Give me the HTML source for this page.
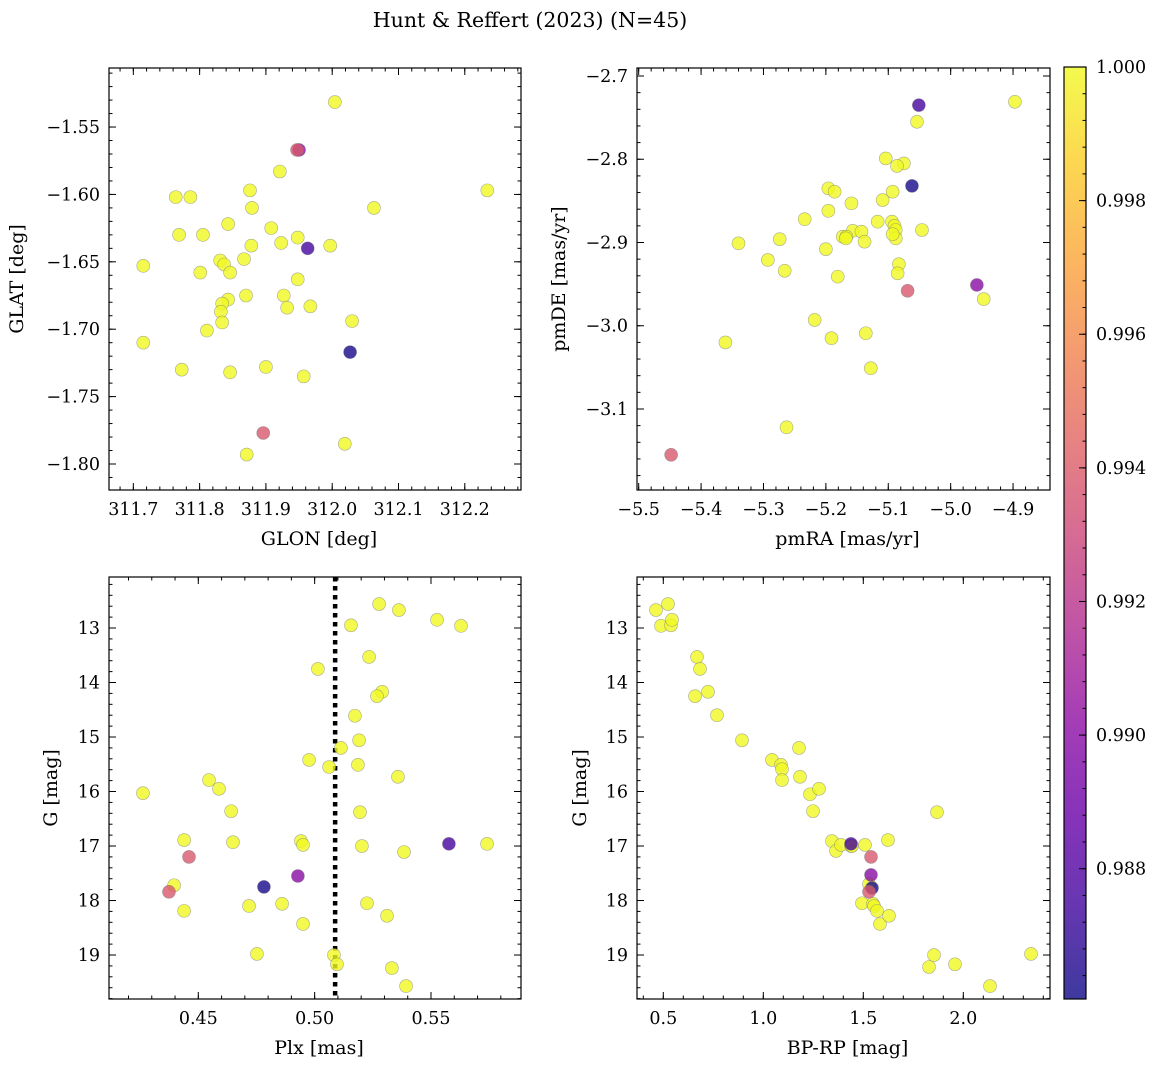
<!DOCTYPE html>
<html><head><meta charset="utf-8"><style>
html,body{margin:0;padding:0;background:#fff;}
svg{display:block;font-family:"DejaVu Serif","Liberation Serif",serif;}
</style></head><body>
<svg id="fig" width="1161" height="1067" viewBox="0 0 1161 1067" xmlns="http://www.w3.org/2000/svg">
<text x="530" y="27" font-size="20.5" text-anchor="middle">Hunt &amp; Reffert (2023) (N=45)</text>
</svg>
<script>
// ---- data (40 members at prob 1.0 + 5 lower-prob members) ----
const glon = [312.004,312.234,311.764,311.786,311.876,311.921,312.063,311.879,311.769,311.805,311.843,311.908,311.948,311.923,311.878,311.997,311.715,311.831,311.837,311.867,311.801,311.846,311.948,311.870,311.927,311.843,311.834,311.932,311.967,311.832,311.834,312.030,311.811,311.715,311.773,311.900,311.846,311.957,312.019,311.871, 312.027,311.963,311.950,311.947,311.896];
const glat = [-1.5315,-1.597,-1.602,-1.602,-1.597,-1.583,-1.610,-1.610,-1.630,-1.630,-1.622,-1.625,-1.632,-1.636,-1.638,-1.638,-1.653,-1.649,-1.652,-1.648,-1.658,-1.658,-1.663,-1.675,-1.675,-1.678,-1.681,-1.684,-1.683,-1.687,-1.695,-1.694,-1.701,-1.710,-1.730,-1.728,-1.732,-1.735,-1.785,-1.793, -1.717,-1.640,-1.567,-1.567,-1.777];
const pmra = [-4.897,-5.054,-5.104,-5.075,-5.086,-5.196,-5.186,-5.093,-5.159,-5.109,-5.234,-5.196,-5.117,-5.094,-5.090,-5.340,-5.274,-5.157,-5.173,-5.143,-5.167,-5.138,-5.200,-5.088,-5.046,-5.088,-5.293,-5.266,-5.083,-5.085,-5.181,-4.947,-5.218,-5.361,-5.191,-5.136,-5.128,-5.263,-5.168,-5.093, -5.062,-5.051,-4.958,-5.448,-5.069];
const pmde = [-2.731,-2.755,-2.799,-2.805,-2.808,-2.835,-2.839,-2.839,-2.853,-2.849,-2.872,-2.862,-2.875,-2.875,-2.880,-2.901,-2.896,-2.886,-2.893,-2.887,-2.893,-2.899,-2.908,-2.885,-2.885,-2.895,-2.921,-2.934,-2.926,-2.937,-2.941,-2.968,-2.993,-3.020,-3.015,-3.009,-3.051,-3.122,-2.895,-2.890, -2.832,-2.735,-2.951,-3.155,-2.958];
const plx = [0.5277,0.5156,0.5362,0.5526,0.5629,0.5234,0.5014,0.5290,0.5268,0.5173,0.5191,0.5113,0.4976,0.5062,0.5186,0.5358,0.4262,0.4546,0.4589,0.4641,0.5195,0.4439,0.4941,0.4649,0.4950,0.5203,0.5384,0.5741,0.4396,0.4439,0.4718,0.4860,0.5225,0.5311,0.4950,0.4752,0.5083,0.5096,0.5332,0.5393, 0.4782,0.5577,0.4928,0.4374,0.4460];
const gPlx = [12.56,12.95,12.67,12.85,12.96,13.53,13.75,14.17,14.25,14.61,15.06,15.20,15.42,15.55,15.51,15.73,16.03,15.79,15.95,16.36,16.38,16.89,16.91,16.93,16.98,17.00,17.11,16.96,17.72,18.19,18.10,18.06,18.05,18.28,18.43,18.98,19.00,19.17,19.24,19.57, 17.75,16.96,17.55,17.84,17.20];
const bprp = [0.4635,0.5235,0.4885,0.5385,0.5435,0.6685,0.6835,0.6585,0.7235,0.7685,0.8935,1.0435,1.0885,1.0935,1.0935,1.1785,1.1835,1.2335,1.2485,1.2785,1.3435,1.3635,1.3885,1.4385,1.5085,1.6235,1.8685,1.5285,1.4935,1.5485,1.5535,1.5685,1.5835,1.6285,1.8535,1.8285,1.9585,2.1335,2.3385,1.4435, 1.5435,1.4385,1.5385,1.5285,1.5385];
const gCmd = [12.67,12.56,12.96,12.95,12.85,13.53,13.75,14.25,14.17,14.60,15.06,15.42,15.51,15.59,15.79,15.20,15.73,16.05,16.36,15.95,16.91,17.09,16.98,17.00,16.98,16.89,16.38,17.70,18.05,18.06,18.10,18.19,18.43,18.28,19.00,19.22,19.17,19.57,18.98,17.00, 17.77,16.96,17.53,17.84,17.20];
const prob = [1,1,1,1,1,1,1,1,1,1,1,1,1,1,1,1,1,1,1,1,1,1,1,1,1,1,1,1,1,1,1,1,1,1,1,1,1,1,1,1, 0.9863,0.9876,0.9900,0.9938,0.9938];
const cbTicks = [0.988,0.990,0.992,0.994,0.996,0.998,1.000];
const cbMin = 0.98605, cbMax = 1.0;

const NS='http://www.w3.org/2000/svg';
const svg=document.getElementById('fig');
function mk(tag,attrs,parent){const e=document.createElementNS(NS,tag);for(const k in attrs)e.setAttribute(k,attrs[k]);(parent||svg).appendChild(e);return e;}
const stops=['#0d0887','#41049d','#6a00a8','#8f0da4','#b12a90','#cc4778','#e16462','#f2844b','#fca636','#fcce25','#f0f921'];
function hex(h){return [parseInt(h.slice(1,3),16),parseInt(h.slice(3,5),16),parseInt(h.slice(5,7),16)];}
function plasma(t){t=Math.max(0,Math.min(1,t));const s=t*10,i=Math.min(9,Math.floor(s)),f=s-i;const a=hex(stops[i]),b=hex(stops[i+1]);return 'rgb('+a.map((v,k)=>Math.round(v+(b[k]-v)*f)).join(',')+')';}
function colorOf(p){return plasma((p-cbMin)/(cbMax-cbMin));}
const TF=17.5, LF=19;

function panel(opt){
  const {x0,y0,x1,y1,xmin,xmax,ymin,ymax,invY,xs,ys,xMaj,xMin,yMaj,yMin,fmtX,fmtY,xlabel,ylabel,ylabX,name}=opt;
  const g=mk('g',{});
  
  
  const sx=v=>x0+(v-xmin)/(xmax-xmin)*(x1-x0);
  const sy=v=>invY? y0+(v-ymin)/(ymax-ymin)*(y1-y0) : y1-(v-ymin)/(ymax-ymin)*(y1-y0);
  const cp=mk('clipPath',{id:'clip-'+name},g);mk('rect',{x:x0,y:y0,width:x1-x0,height:y1-y0},cp);
  const pts=mk('g',{'clip-path':'url(#clip-'+name+')'},g);
  if(opt.vline!==undefined){
    const l=mk('line',{x1:sx(opt.vline),x2:sx(opt.vline),y1:y0,y2:y1,stroke:'#000','stroke-width':4.5,'stroke-dasharray':'4.5,4.5'},pts);
    
    
  }
  for(let i=0;i<xs.length;i++){
    const c=mk('circle',{cx:sx(xs[i]),cy:sy(ys[i]),r:6.5,fill:colorOf(prob[i]),'fill-opacity':0.8,stroke:'#777','stroke-opacity':0.6,'stroke-width':0.6},pts);
    
    
  }
  mk('rect',{x:x0,y:y0,width:x1-x0,height:y1-y0,fill:'none',stroke:'#000','stroke-width':1.2},g);
  const eps=1e-9;
  const tick=(isX,v,len)=>{
    if(isX){const p=sx(v);if(p<x0-0.1||p>x1+0.1)return;mk('line',{x1:p,x2:p,y1:y1,y2:y1-len,stroke:'#000','stroke-width':1},g);mk('line',{x1:p,x2:p,y1:y0,y2:y0+len,stroke:'#000','stroke-width':1},g);}
    else{const p=sy(v);if(p<y0-0.1||p>y1+0.1)return;mk('line',{x1:x0,x2:x0+len,y1:p,y2:p,stroke:'#000','stroke-width':1},g);mk('line',{x1:x1,x2:x1-len,y1:p,y2:p,stroke:'#000','stroke-width':1},g);}
  };
  const lo=Math.min(xmin,xmax),hi=Math.max(xmin,xmax);
  for(let v=Math.ceil(lo/xMin-eps)*xMin;v<=hi+eps;v+=xMin)tick(true,v,3.5);
  for(let v=Math.ceil(lo/xMaj-eps)*xMaj;v<=hi+eps;v+=xMaj){tick(true,v,7);const t=mk('text',{x:sx(v),y:y1+25,'font-size':TF,'text-anchor':'middle'},g);t.textContent=fmtX(v);}
  const ylo=Math.min(ymin,ymax),yhi=Math.max(ymin,ymax);
  for(let v=Math.ceil(ylo/yMin-eps)*yMin;v<=yhi+eps;v+=yMin)tick(false,v,3.5);
  for(let v=Math.ceil(ylo/yMaj-eps)*yMaj;v<=yhi+eps;v+=yMaj){tick(false,v,7);const t=mk('text',{x:x0-9,y:sy(v)+6,'font-size':TF,'text-anchor':'end'},g);t.textContent=fmtY(v);}
  const xl=mk('text',{x:(x0+x1)/2+4,y:y1+55,'font-size':LF,'text-anchor':'middle'},g);xl.textContent=xlabel;
  
  
  const yl=mk('text',{x:ylabX,y:(y0+y1)/2,'font-size':LF,'text-anchor':'middle',transform:'rotate(-90 '+ylabX+' '+(y0+y1)/2+')'},g);yl.textContent=ylabel;
  
  
}
panel({name:'glon-glat-panel',x0:109,y0:68,x1:521,y1:490,xmin:311.6633,xmax:312.2848,ymin:-1.8193,ymax:-1.5062,xs:glon,ys:glat,xMaj:0.1,xMin:0.02,yMaj:0.05,yMin:0.01,fmtX:v=>v.toFixed(1),fmtY:v=>'\u2212'+Math.abs(v).toFixed(2),xlabel:'GLON [deg]',ylabel:'GLAT [deg]',ylabX:23});
panel({name:'proper-motion-panel',x0:637,y0:68,x1:1050,y1:490,xmin:-5.5027,xmax:-4.8408,ymin:-3.1973,ymax:-2.6904,xs:pmra,ys:pmde,xMaj:0.1,xMin:0.02,yMaj:0.1,yMin:0.02,fmtX:v=>'\u2212'+Math.abs(v).toFixed(1),fmtY:v=>'\u2212'+Math.abs(v).toFixed(1),xlabel:'pmRA [mas/yr]',ylabel:'pmDE [mas/yr]',ylabX:565});
panel({name:'parallax-mag-panel',x0:109,y0:577,x1:521,y1:999,xmin:0.41162,xmax:0.58868,ymin:12.064,ymax:19.807,invY:true,xs:plx,ys:gPlx,xMaj:0.05,xMin:0.01,yMaj:1,yMin:0.2,fmtX:v=>v.toFixed(2),fmtY:v=>Math.round(v)+'',xlabel:'Plx [mas]',ylabel:'G [mag]',ylabX:57,vline:0.5088});
panel({name:'cmd-panel',x0:637,y0:577,x1:1050,y1:999,xmin:0.3685,xmax:2.4335,ymin:12.064,ymax:19.807,invY:true,xs:bprp,ys:gCmd,xMaj:0.5,xMin:0.1,yMaj:1,yMin:0.2,fmtX:v=>v.toFixed(1),fmtY:v=>Math.round(v)+'',xlabel:'BP-RP [mag]',ylabel:'G [mag]',ylabX:586});

// colorbar
const cb=mk('g',{});


const cx0=1064,cx1=1086,cy0=67,cy1=999;
const grad=mk('linearGradient',{id:'cbg',x1:0,y1:1,x2:0,y2:0},cb);
for(let i=0;i<=10;i++)mk('stop',{offset:i/10,'stop-color':stops[i],'stop-opacity':0.8},grad);
mk('rect',{x:cx0,y:cy0,width:cx1-cx0,height:cy1-cy0,fill:'url(#cbg)',stroke:'#000','stroke-width':1.2},cb);
const cy=v=>cy1-(v-cbMin)/(cbMax-cbMin)*(cy1-cy0);
for(let v=0.9864;v<=1.00001;v+=0.0004){mk('line',{x1:cx1,x2:cx1-3.5,y1:cy(v),y2:cy(v),stroke:'#000','stroke-width':1},cb);}
for(const v of cbTicks){
  mk('line',{x1:cx1,x2:cx1-7,y1:cy(v),y2:cy(v),stroke:'#000','stroke-width':1},cb);
  const t=mk('text',{x:cx1+10,y:cy(v)+6,'font-size':TF},cb);t.textContent=v.toFixed(3);
  
  
}
</script>
</body></html>
